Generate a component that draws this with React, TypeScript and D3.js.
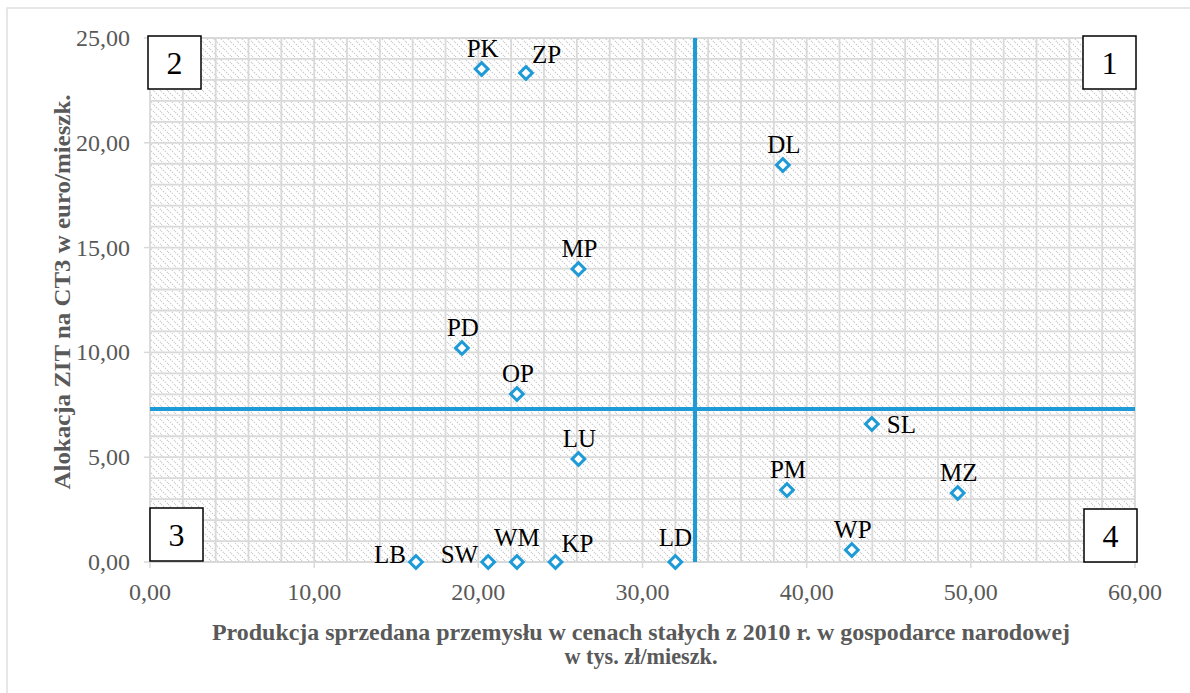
import React from 'react';
import * as d3 from 'd3';

// region codes and values
const regions = ["PK", "ZP", "DL", "MP", "PD", "OP", "LU", "SL", "PM", "MZ", "WP", "LB", "SW", "WM", "KP", "LD"];
const production = [20.2, 22.9, 38.55, 26.1, 19.0, 22.35, 26.1, 43.97, 38.8, 49.2, 42.75, 16.2, 20.6, 22.35, 24.7, 32.0];
const allocation = [23.52, 23.33, 18.94, 13.98, 10.21, 8.02, 4.91, 6.58, 3.43, 3.29, 0.57, 0, 0, 0, 0, 0];
const labelSide = ["top", "topright", "top", "top", "top", "top", "top", "right", "top", "top", "top", "left", "left", "topHigh", "topright", "topHigh"];

const xTicks = [0, 10, 20, 30, 40, 50, 60];
const yTicks = [0, 5, 10, 15, 20, 25];
const quadrantX = 33.2;
const quadrantY = 7.3;
const quadrantNames = ["1", "2", "3", "4"];

const xTitle1 = "Produkcja sprzedana przemysłu w cenach stałych z 2010 r. w gospodarce narodowej";
const xTitle2 = "w tys. zł/mieszk.";
const yTitle = "Alokacja ZIT na CT3 w euro/mieszk.";

const W = 1190, H = 693;
const margin = { top: 38, right: 55, bottom: 131, left: 150 };
const BLUE = "#1e9bd7";
const GRID = "#d9d9d9";
const TXT = "#595959";
const FONT = "Liberation Serif, Times New Roman, serif";

const fmt = (v: number) => d3.format(".2f")(v).replace(".", ",");

export default function App() {
  const x = d3.scaleLinear().domain([0, 60]).range([margin.left, W - margin.right]);
  const y = d3.scaleLinear().domain([0, 25]).range([H - margin.bottom, margin.top]);
  const [x0, x1] = x.range();
  const [y0, y1] = y.range();

  const minorX = d3.range(0, 60.01, 2);
  const minorY = d3.range(0, 25.01, 1);

  const box = 53;
  const boxes = [
    { name: quadrantNames[0], bx: x1 - box + 1, by: y1 - 2 },
    { name: quadrantNames[1], bx: x0 - 2, by: y1 - 2 },
    { name: quadrantNames[2], bx: x0, by: y0 - box - 1 },
    { name: quadrantNames[3], bx: x1 - box + 2, by: y0 - box },
  ];

  const labelProps = (side: string, px: number, py: number) => {
    if (side === "right") return { x: px + 15, y: py + 9, textAnchor: "start" };
    if (side === "left") return { x: px - 10, y: py + 1, textAnchor: "end" };
    if (side === "topright") return { x: px + 6, y: py - 10, textAnchor: "start" };
    if (side === "topHigh") return { x: px, y: py - 16, textAnchor: "middle" };
    return { x: px + 1, y: py - 12, textAnchor: "middle" };
  };

  return (
    <svg width={W} height={H} style={{ position: "absolute", left: 0, top: 0, background: "#fff", fontFamily: FONT }}>
      <defs>
        <pattern id="hatch" width="7" height="7" patternUnits="userSpaceOnUse">
          <line x1="0" y1="0" x2="7" y2="7" stroke="#cccccc" strokeWidth="1.2" strokeDasharray="1.4 1.4" />
        </pattern>
      </defs>
      <rect x={7} y={8} width={W} height={H} fill="none" stroke="#e0e0e0" strokeWidth={1.5} />

      {/* plot background */}
      <rect x={x0} y={y1} width={x1 - x0} height={y0 - y1} fill="url(#hatch)" />

      {/* gridlines */}
      {minorX.map(v => (
        <line key={"gx" + v} x1={x(v)} x2={x(v)} y1={y1} y2={y0} stroke={GRID} strokeWidth={1.8} />
      ))}
      {minorY.map(v => (
        <line key={"gy" + v} x1={x0} x2={x1} y1={y(v)} y2={y(v)} stroke={GRID} strokeWidth={1.8} />
      ))}
      {/* axis line and ticks */}
      <line x1={x0} x2={x1} y1={y0} y2={y0} stroke={GRID} strokeWidth={1.8} />
      {xTicks.map(v => (
        <line key={"tx" + v} x1={x(v)} x2={x(v)} y1={y0} y2={y0 + 6} stroke={GRID} strokeWidth={1.5} />
      ))}
      {yTicks.map(v => (
        <line key={"ty" + v} x1={x0 - 6} x2={x0} y1={y(v)} y2={y(v)} stroke={GRID} strokeWidth={1.5} />
      ))}

      {/* tick labels */}
      {xTicks.map(v => (
        <text key={"lx" + v} x={x(v)} y={y0 + 38} textAnchor="middle" fontSize={24} fill={TXT}>{fmt(v)}</text>
      ))}
      {yTicks.map(v => (
        <text key={"ly" + v} x={x0 - 20} y={y(v) + 8} textAnchor="end" fontSize={24} fill={TXT}>{fmt(v)}</text>
      ))}

      {/* quadrant lines */}
      <line x1={x(quadrantX)} x2={x(quadrantX)} y1={y1} y2={y0} stroke={BLUE} strokeWidth={4} />
      <line x1={x0} x2={x1} y1={y(quadrantY)} y2={y(quadrantY)} stroke={BLUE} strokeWidth={4} />

      {/* quadrant boxes */}
      {boxes.map(b => (
        <g key={"b" + b.name}>
          <rect x={b.bx} y={b.by} width={box} height={box} fill="#fff" stroke="#000" strokeWidth={1.5} />
          <text x={b.bx + box / 2} y={b.by + box / 2 + 11} textAnchor="middle" fontSize={32} fill="#000">{b.name}</text>
        </g>
      ))}

      {/* points */}
      {regions.map((r, i) => {
        const px = x(production[i]);
        const py = y(allocation[i]);
        const lp = labelProps(labelSide[i], px, py);
        return (
          <g key={r}>
            <rect x={px - 4.5} y={py - 4.5} width={9} height={9} fill="#fff" stroke={BLUE} strokeWidth={3}
              transform={`rotate(45 ${px} ${py})`} />
            <text x={lp.x} y={lp.y} textAnchor={lp.textAnchor} fontSize={25} fill="#000">{r}</text>
          </g>
        );
      })}

      {/* axis titles */}
      <text x={641} y={640} textAnchor="middle" fontSize={23} fontWeight="bold" fill={TXT}
        textLength={858} lengthAdjust="spacingAndGlyphs">{xTitle1}</text>
      <text x={641} y={664} textAnchor="middle" fontSize={23} fontWeight="bold" fill={TXT}
        textLength={153} lengthAdjust="spacingAndGlyphs">{xTitle2}</text>
      <text transform={`translate(70, ${(y0 + y1) / 2 - 8}) rotate(-90)`} textAnchor="middle"
        fontSize={23} fontWeight="bold" fill={TXT} textLength={395} lengthAdjust="spacingAndGlyphs">{yTitle}</text>
    </svg>
  );
}
